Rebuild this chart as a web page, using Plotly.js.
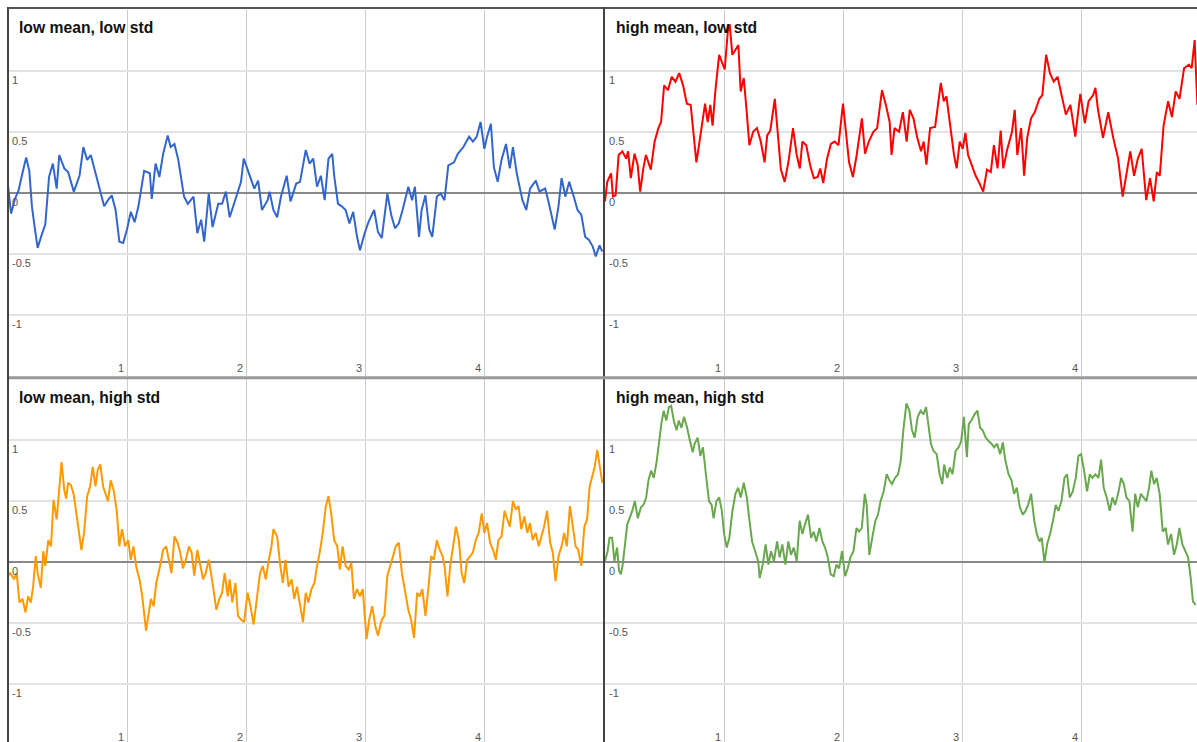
<!DOCTYPE html>
<html>
<head>
<meta charset="utf-8">
<script src="https://cdn.plot.ly/plotly-3.0.1.min.js"></script>
<style>
  html, body { margin: 0; padding: 0; overflow: hidden; background: #fff; }
  #chart { width: 1200px; height: 746px; }
</style>
</head>
<body>
<div id="chart"></div>
<script>
// ---------- data ----------
const panelTitles = ["low mean, low std", "high mean, low std", "low mean, high std", "high mean, high std"];
const xTickVals = [1, 2, 3, 4];
const xTickText = ["1", "2", "3", "4"];
const yTickVals = [-1, -0.5, 0, 0.5, 1];
const yTickText = ["-1", "-0.5", "0", "0.5", "1"];

const xLowLow = [0,0.026,0.058,0.089,0.121,0.153,0.179,0.201,0.224,0.249,
 0.281,0.313,0.345,0.377,0.409,0.431,0.473,0.505,0.553,0.601,
 0.633,0.665,0.696,0.744,0.776,0.808,0.840,0.872,0.904,0.936,
 0.968,1.000,1.032,1.064,1.096,1.144,1.192,1.208,1.240,1.272,
 1.304,1.342,1.367,1.399,1.431,1.479,1.511,1.559,1.591,1.623,
 1.649,1.687,1.719,1.767,1.799,1.831,1.863,1.911,1.958,1.981,
 2.022,2.070,2.102,2.134,2.182,2.198,2.230,2.262,2.294,2.342,
 2.374,2.422,2.454,2.502,2.534,2.565,2.597,2.629,2.661,2.693,
 2.725,2.741,2.773,2.805,2.837,2.869,2.901,2.933,2.958,2.997,
 3.029,3.077,3.109,3.141,3.188,3.220,3.252,3.284,3.316,3.364,
 3.396,3.419,3.454,3.476,3.508,3.540,3.565,3.604,3.636,3.668,
 3.700,3.748,3.780,3.827,3.875,3.907,3.939,3.971,4.003,4.026,
 4.058,4.083,4.115,4.147,4.185,4.217,4.243,4.275,4.323,4.355,
 4.387,4.435,4.466,4.514,4.546,4.594,4.626,4.652,4.684,4.716,
 4.754,4.786,4.818,4.850,4.882,4.914,4.939,4.971,4.994];
const yLowLow = [0.06,-0.17,-0.05,0.02,0.16,0.29,0.18,-0.11,-0.28,-0.45,
 -0.35,-0.26,0.13,0.24,0.035,0.31,0.2,0.17,0.01,0.14,
 0.375,0.27,0.31,0.13,-0.005,-0.11,-0.06,-0.02,-0.14,-0.40,
 -0.41,-0.30,-0.155,-0.24,-0.11,0.18,0.16,-0.05,0.24,0.13,
 0.32,0.47,0.375,0.40,0.27,-0.03,-0.09,-0.03,-0.33,-0.22,
 -0.40,-0.005,-0.28,-0.09,-0.09,0.01,-0.2,-0.06,0.09,0.28,
 0.17,0.035,0.10,-0.14,-0.06,0.01,-0.14,-0.20,-0.03,0.14,
 -0.07,0.076,0.09,0.35,0.24,0.28,0.05,0.14,-0.06,0.28,
 0.32,0.14,-0.09,-0.11,-0.14,-0.25,-0.155,-0.36,-0.47,-0.33,
 -0.24,-0.14,-0.32,-0.37,-0.005,-0.18,-0.29,-0.25,-0.14,0.05,
 -0.06,0.05,-0.36,-0.14,-0.02,-0.30,-0.36,-0.03,-0.005,-0.06,
 0.225,0.25,0.32,0.375,0.46,0.42,0.46,0.58,0.36,0.46,
 0.565,0.21,0.09,0.27,0.40,0.2,0.375,0.16,-0.06,-0.14,
 0.035,0.10,0.01,0.035,-0.09,-0.30,-0.11,0.12,-0.03,0.09,
 -0.03,-0.14,-0.18,-0.36,-0.385,-0.44,-0.52,-0.43,-0.48];

const xHighLow = [0,0.019,0.051,0.067,0.089,0.115,0.146,0.178,0.194,0.217,
 0.248,0.274,0.296,0.322,0.344,0.385,0.417,0.449,0.471,0.497,
 0.529,0.561,0.592,0.624,0.656,0.688,0.720,0.745,0.768,0.790,
 0.815,0.841,0.863,0.885,0.904,0.927,0.959,0.981,1.006,1.032,
 1.048,1.070,1.096,1.121,1.140,1.166,1.191,1.213,1.245,1.277,
 1.309,1.341,1.363,1.389,1.427,1.452,1.478,1.510,1.541,1.580,
 1.611,1.637,1.659,1.691,1.723,1.755,1.787,1.809,1.834,1.866,
 1.898,1.930,1.962,2.000,2.025,2.051,2.083,2.115,2.159,2.185,
 2.217,2.255,2.287,2.328,2.360,2.392,2.408,2.433,2.471,2.503,
 2.535,2.561,2.592,2.624,2.656,2.678,2.701,2.732,2.774,2.822,
 2.847,2.869,2.901,2.933,2.955,2.981,3.006,3.029,3.051,3.083,
 3.115,3.146,3.178,3.210,3.242,3.268,3.299,3.325,3.347,3.379,
 3.420,3.443,3.465,3.497,3.522,3.548,3.580,3.611,3.650,3.675,
 3.707,3.739,3.771,3.803,3.834,3.873,3.911,3.952,3.994,4.032,
 4.064,4.102,4.121,4.143,4.185,4.229,4.271,4.312,4.350,4.382,
 4.414,4.446,4.478,4.510,4.548,4.580,4.611,4.637,4.662,4.694,
 4.732,4.764,4.796,4.828,4.866,4.908,4.930,4.955,4.978];
const yHighLow = [-0.07,0.09,0.16,-0.03,-0.02,0.31,0.34,0.28,0.34,0.12,
 0.32,0.23,0.01,0.20,0.31,0.19,0.42,0.53,0.58,0.88,
 0.84,0.95,0.91,0.98,0.88,0.73,0.72,0.47,0.25,0.39,
 0.55,0.73,0.58,0.72,0.55,0.83,1.13,1.07,1.01,1.32,
 1.38,1.13,1.17,1.21,0.83,0.94,0.66,0.39,0.50,0.53,
 0.42,0.25,0.47,0.51,0.77,0.47,0.19,0.09,0.25,0.53,
 0.31,0.20,0.42,0.39,0.23,0.12,0.13,0.20,0.08,0.28,
 0.40,0.42,0.39,0.73,0.51,0.25,0.13,0.31,0.61,0.32,
 0.42,0.50,0.53,0.84,0.72,0.58,0.31,0.53,0.50,0.66,
 0.42,0.68,0.61,0.45,0.34,0.42,0.23,0.53,0.54,0.90,
 0.75,0.79,0.55,0.31,0.20,0.42,0.36,0.49,0.31,0.23,
 0.14,0.08,0.01,0.19,0.17,0.39,0.20,0.51,0.20,0.35,
 0.50,0.68,0.31,0.53,0.14,0.45,0.61,0.66,0.77,0.80,
 1.13,0.98,0.91,0.95,0.80,0.64,0.72,0.46,0.81,0.57,
 0.75,0.80,0.86,0.68,0.45,0.66,0.45,0.28,-0.03,0.17,
 0.34,0.14,0.28,0.36,-0.06,0.12,-0.07,0.17,0.14,0.55,
 0.75,0.62,0.83,0.77,1.02,1.05,1.02,1.25,0.72];

const xLowHigh = [0,0.019,0.051,0.073,0.096,0.121,0.147,0.169,0.192,0.211,
 0.233,0.249,0.275,0.297,0.313,0.339,0.361,0.383,0.409,0.425,
 0.450,0.473,0.489,0.505,0.530,0.553,0.575,0.594,0.617,0.639,
 0.665,0.690,0.712,0.735,0.754,0.776,0.799,0.818,0.840,0.863,
 0.888,0.914,0.936,0.958,0.984,1.010,1.032,1.054,1.080,1.105,
 1.128,1.160,1.182,1.201,1.224,1.246,1.278,1.304,1.329,1.351,
 1.374,1.399,1.425,1.447,1.470,1.495,1.521,1.543,1.565,1.591,
 1.617,1.639,1.661,1.687,1.719,1.751,1.776,1.799,1.821,1.847,
 1.863,1.885,1.911,1.933,1.958,1.984,2.013,2.038,2.064,2.089,
 2.118,2.141,2.166,2.192,2.214,2.230,2.262,2.288,2.310,2.332,
 2.358,2.383,2.406,2.428,2.454,2.479,2.502,2.524,2.550,2.575,
 2.597,2.620,2.645,2.671,2.693,2.716,2.741,2.767,2.789,2.812,
 2.837,2.863,2.885,2.907,2.933,2.958,2.981,3.013,3.035,3.061,
 3.086,3.109,3.141,3.163,3.188,3.214,3.236,3.259,3.284,3.310,
 3.332,3.364,3.387,3.412,3.438,3.460,3.482,3.508,3.534,3.556,
 3.578,3.604,3.629,3.652,3.668,3.693,3.716,3.738,3.764,3.789,
 3.812,3.834,3.859,3.885,3.907,3.930,3.955,3.981,4.003,4.026,
 4.051,4.077,4.099,4.121,4.147,4.173,4.195,4.217,4.243,4.268,
 4.291,4.313,4.339,4.364,4.387,4.409,4.435,4.460,4.482,4.505,
 4.530,4.556,4.578,4.601,4.626,4.652,4.674,4.696,4.722,4.748,
 4.770,4.792,4.818,4.843,4.866,4.888,4.907,4.930,4.952,4.971,
 4.994];
const yLowHigh = [-0.11,-0.09,-0.14,-0.09,-0.33,-0.30,-0.41,-0.28,-0.33,-0.20,
 0.05,-0.09,-0.21,0.09,-0.03,0.18,0.13,0.51,0.35,0.51,
 0.82,0.59,0.52,0.65,0.63,0.55,0.39,0.29,0.10,0.24,
 0.54,0.62,0.78,0.62,0.755,0.80,0.62,0.565,0.50,0.67,
 0.59,0.42,0.13,0.27,0.13,0.18,0.02,0.13,-0.05,-0.14,
 -0.28,-0.56,-0.41,-0.30,-0.36,-0.17,-0.03,0.10,0.13,0.02,
 -0.09,0.21,0.16,0.08,-0.05,0.02,0.13,0.08,-0.11,0.10,
 -0.02,-0.14,-0.09,0.02,-0.17,-0.39,-0.30,-0.25,-0.09,-0.28,
 -0.14,-0.33,-0.17,-0.44,-0.47,-0.49,-0.25,-0.36,-0.51,-0.30,
 -0.09,-0.03,-0.14,0.02,0.13,0.27,0.21,-0.03,-0.17,0.02,
 -0.20,-0.14,-0.30,-0.20,-0.36,-0.49,-0.25,-0.33,-0.22,-0.17,
 -0.03,0.08,0.24,0.46,0.54,0.40,0.18,0.13,-0.06,0.13,
 -0.03,-0.06,-0.005,-0.30,-0.22,-0.28,-0.22,-0.63,-0.47,-0.36,
 -0.52,-0.60,-0.47,-0.44,-0.11,-0.03,0.05,0.13,0.16,-0.09,
 -0.20,-0.39,-0.47,-0.62,-0.25,-0.28,-0.22,-0.44,-0.20,0.05,
 0.02,0.18,0.10,0.05,-0.03,-0.28,-0.03,0.13,0.29,0.18,
 -0.09,-0.17,0.02,0.05,0.08,0.18,0.24,0.40,0.24,0.32,
 0.16,0.10,0.02,0.18,0.21,0.42,0.35,0.29,0.50,0.43,
 0.46,0.27,0.375,0.24,0.32,0.18,0.24,0.13,0.21,0.29,
 0.42,0.16,0.08,-0.155,0.05,0.13,0.24,0.13,0.46,0.29,
 0.13,0.10,-0.03,0.29,0.35,0.62,0.69,0.78,0.92,0.81,
 0.65];

const xHighHigh = [0,0.022,0.038,0.060,0.079,0.102,0.118,0.133,0.149,0.165,
 0.187,0.207,0.229,0.251,0.276,0.302,0.324,0.346,0.365,0.388,
 0.410,0.435,0.451,0.473,0.493,0.515,0.537,0.556,0.578,0.601,
 0.620,0.642,0.664,0.690,0.715,0.737,0.753,0.779,0.801,0.823,
 0.848,0.874,0.896,0.912,0.937,0.960,0.982,1.001,1.023,1.045,
 1.071,1.096,1.119,1.141,1.166,1.192,1.214,1.236,1.262,1.287,
 1.300,1.325,1.350,1.373,1.395,1.420,1.446,1.468,1.490,1.516,
 1.541,1.563,1.586,1.611,1.636,1.659,1.681,1.706,1.732,1.754,
 1.776,1.802,1.827,1.849,1.872,1.897,1.922,1.945,1.967,1.992,
 2.018,2.040,2.062,2.088,2.113,2.135,2.158,2.183,2.199,2.221,
 2.246,2.272,2.294,2.316,2.342,2.367,2.390,2.412,2.437,2.463,
 2.485,2.507,2.533,2.558,2.580,2.602,2.628,2.653,2.676,2.698,
 2.717,2.739,2.761,2.787,2.812,2.834,2.850,2.876,2.898,2.920,
 2.946,2.971,2.993,3.016,3.041,3.057,3.079,3.105,3.130,3.152,
 3.174,3.200,3.225,3.248,3.270,3.295,3.321,3.343,3.365,3.391,
 3.416,3.438,3.460,3.486,3.511,3.534,3.556,3.581,3.607,3.629,
 3.651,3.670,3.693,3.715,3.740,3.765,3.788,3.810,3.836,3.861,
 3.883,3.905,3.931,3.956,3.978,4.001,4.026,4.051,4.074,4.096,
 4.121,4.147,4.169,4.191,4.216,4.242,4.264,4.287,4.312,4.337,
 4.360,4.382,4.407,4.433,4.455,4.477,4.503,4.528,4.550,4.572,
 4.591,4.614,4.636,4.661,4.687,4.712,4.731,4.757,4.782,4.805,
 4.827,4.852,4.877,4.900,4.922,4.941,4.963];
const yHighHigh = [0.01,0.09,0.20,0.20,0.01,0.12,-0.07,-0.10,-0.02,0.145,
 0.31,0.36,0.42,0.50,0.36,0.45,0.47,0.53,0.67,0.75,
 0.69,0.83,0.97,1.13,1.24,1.16,1.27,1.28,1.16,1.08,
 1.16,1.10,1.19,1.10,0.99,0.90,0.97,1.02,0.87,0.94,
 0.72,0.50,0.47,0.36,0.50,0.53,0.42,0.23,0.12,0.20,
 0.42,0.56,0.61,0.53,0.65,0.53,0.34,0.17,0.09,0.01,
 -0.13,-0.02,0.145,-0.02,0.09,0.01,0.17,0.04,0.145,-0.02,
 0.17,0.06,0.12,0.01,0.34,0.23,0.31,0.39,0.20,0.25,
 0.17,0.28,0.17,0.12,0.04,-0.10,-0.115,-0.02,-0.05,0.09,
 -0.115,-0.05,0.04,0.09,0.28,0.25,0.28,0.56,0.47,0.06,
 0.20,0.34,0.39,0.50,0.58,0.72,0.67,0.64,0.69,0.72,
 0.83,1.08,1.30,1.24,1.08,1.02,1.19,1.24,1.21,1.27,
 1.13,0.97,0.91,0.885,0.72,0.64,0.80,0.69,0.775,0.72,
 0.91,0.94,0.99,1.19,0.86,1.13,1.16,1.21,1.24,1.10,
 1.08,1.02,0.99,0.97,0.94,0.97,0.885,0.98,0.83,0.72,
 0.67,0.56,0.61,0.45,0.39,0.42,0.47,0.56,0.34,0.23,
 0.17,0.20,-0.005,0.145,0.23,0.34,0.47,0.42,0.50,0.69,
 0.72,0.53,0.58,0.69,0.87,0.885,0.75,0.58,0.72,0.69,
 0.72,0.69,0.84,0.61,0.53,0.42,0.53,0.47,0.56,0.69,
 0.64,0.53,0.50,0.25,0.56,0.45,0.56,0.53,0.50,0.61,
 0.75,0.64,0.69,0.56,0.25,0.28,0.145,0.23,0.06,0.145,
 0.28,0.145,0.09,0.04,-0.13,-0.32,-0.35];

const lineColors = ["#3366cc", "#ff0000", "#ff9900", "#6aa84f"];

// ---------- layout helpers (pixel geometry of the 1200x746 canvas) ----------
const W = 1200, H = 746;
const fx = p => p / W;
const fy = p => (H - p) / H;
const FONT = "Arial, 'Liberation Sans', sans-serif";

const traces = [
  {x: xLowLow, y: yLowLow, xaxis: "x", yaxis: "y"},
  {x: xHighLow, y: yHighLow, xaxis: "x2", yaxis: "y2"},
  {x: xLowHigh, y: yLowHigh, xaxis: "x3", yaxis: "y3"},
  {x: xHighHigh, y: yHighHigh, xaxis: "x4", yaxis: "y4"}
].map((t, i) => Object.assign(t, {
  type: "scatter", mode: "lines", hoverinfo: "skip", showlegend: false,
  line: {color: lineColors[i], width: 2}
}));

function xAxis(domain, anchor) {
  return {
    domain: domain, anchor: anchor, range: [0, 5],
    tickmode: "array", tickvals: xTickVals, ticktext: xTickText,
    showgrid: true, gridcolor: "#cccccc", gridwidth: 1,
    zeroline: false, showline: false, ticks: "",
    ticklabelposition: "inside left", ticklabelstandoff: -4, ticklabelshift: -3,
    tickfont: {family: FONT, size: 11, color: "#555555"},
    fixedrange: true
  };
}
function yAxis(domain, anchor) {
  return {
    domain: domain, anchor: anchor, range: [-1.5, 1.5],
    tickmode: "array", tickvals: yTickVals, ticktext: yTickText,
    showgrid: true, gridcolor: "#e3e3e3", gridwidth: 2,
    zeroline: true, zerolinecolor: "#888888", zerolinewidth: 2,
    showline: false, ticks: "",
    ticklabelposition: "inside", ticklabelshift: 9, ticklabelstandoff: 1,
    tickfont: {family: FONT, size: 11, color: "#555555"},
    fixedrange: true
  };
}

const leftDom = [fx(8), fx(603)];
const rightDom = [fx(605), fx(1200)];
const topDom = [fy(376.1), fy(9.6)];
const botDom = [fy(745.4), fy(379)];

const titlePos = [[16.5, 27], [614, 27], [16.5, 397.5], [614, 397.5]];
const annotations = panelTitles.map((t, i) => ({
  text: "<b>" + t + "</b>", xref: "paper", yref: "paper",
  x: fx(titlePos[i][0]), y: fy(titlePos[i][1]),
  xanchor: "left", yanchor: "middle", showarrow: false,
  font: {family: FONT, size: 15.7, color: "#111111"}
}));

const shapes = [
  {type: "line", xref: "paper", yref: "paper", x0: fx(7), x1: 1, y0: fy(8), y1: fy(8), line: {color: "#555555", width: 2}},
  {type: "line", xref: "paper", yref: "paper", x0: fx(8), x1: fx(8), y0: 0, y1: fy(7), line: {color: "#444444", width: 2}},
  {type: "line", xref: "paper", yref: "paper", x0: fx(604), x1: fx(604), y0: 0, y1: fy(7), line: {color: "#444444", width: 2}},
  {type: "line", xref: "paper", yref: "paper", x0: fx(9), x1: 1, y0: fy(377.8), y1: fy(377.8), line: {color: "#999999", width: 3}}
];

const layout = {
  width: W, height: H,
  margin: {l: 0, r: 0, t: 0, b: 0},
  paper_bgcolor: "#ffffff", plot_bgcolor: "#ffffff",
  showlegend: false,
  xaxis: xAxis(leftDom, "y"),
  yaxis: yAxis(topDom, "x"),
  xaxis2: xAxis(rightDom, "y2"),
  yaxis2: yAxis(topDom, "x2"),
  xaxis3: xAxis(leftDom, "y3"),
  yaxis3: yAxis(botDom, "x3"),
  xaxis4: xAxis(rightDom, "y4"),
  yaxis4: yAxis(botDom, "x4"),
  annotations: annotations,
  shapes: shapes
};

Plotly.newPlot("chart", traces, layout, {staticPlot: true, displayModeBar: false});
</script>
</body>
</html>
